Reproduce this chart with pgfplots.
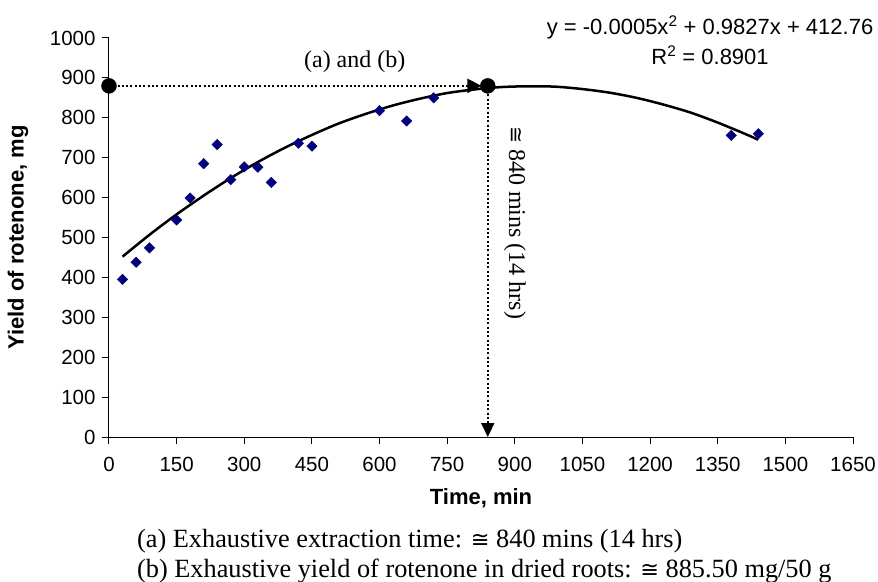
\documentclass[border=0pt]{standalone}
\usepackage{pgfplots}
\pgfplotsset{compat=1.18}
\usepackage{fontspec}
\setmainfont{Liberation Serif}
\newfontfamily\arial{Liberation Sans}
\newfontfamily\dejavu{DejaVu Sans}[Scale=0.85]
\newcommand{\approxeq}{{\dejavu ≅}}
\usetikzlibrary{arrows.meta}
\definecolor{navyblue}{RGB}{0,0,128}
\begin{document}
\begin{tikzpicture}
\useasboundingbox (-109bp,-145bp) rectangle (769bp,437bp);
\begin{axis}[
  at={(0,0)}, anchor=south west,
  scale only axis, width=744bp, height=399bp,
  xmin=0, xmax=1650, ymin=0, ymax=1000,
  axis x line=bottom, axis y line=left,
  axis line style={-, black, line width=1bp},
  xtick={0,150,...,1650}, ytick={0,100,...,1000},
  tick align=outside, major tick length=7bp,
  tick style={black, line width=1bp},
  /pgf/number format/assume math mode=true,
  /pgf/number format/set thousands separator={},
  tick label style={font=\arial\fontsize{20.5bp}{24bp}\selectfont},
  xticklabel style={yshift=-10bp},
  yticklabel style={xshift=-3bp},
  xlabel={Time, min}, ylabel={Yield of rotenone, mg},
  label style={font=\arial\bfseries\fontsize{22bp}{26bp}\selectfont},
  xlabel style={at={([yshift=-61bp]axis description cs:0.5,0)}, anchor=center},
  ylabel style={at={([xshift=-91bp]axis description cs:0,0.5)}, anchor=center},
  clip=false,
]
\addplot[black, line width=2.5bp, smooth] coordinates {
(30,452) (90,507) (150,558) (210,605) (270,649) (330,689) (390,725) (450,757)
(510,786) (570,810) (630,831) (690,848) (750,862) (810,871) (870,877) (930,879)
(990,878) (1050,872) (1110,863) (1170,850) (1230,833) (1290,813) (1350,788)
(1410,760) (1440,745)};
\addplot[only marks, mark=square*, mark size=3.7bp, mark options={rotate=45, fill=navyblue, draw=navyblue}] coordinates {
(30,395) (60,438) (90,474) (150,544) (180,599) (210,685) (240,733) (270,645)
(300,677) (330,676) (360,638) (420,736) (450,729) (600,818) (660,792) (720,850)
(1380,756) (1440,760)};
\addplot[black, line width=2.2bp, dash pattern=on 2bp off 2.3bp, -{Triangle[length=14bp,width=14bp]}] coordinates {(0,880) (826,880)};
\addplot[black, line width=2.2bp, dash pattern=on 2bp off 2.3bp, -{Triangle[length=14bp,width=13bp]}] coordinates {(840,880) (840,0)};
\addplot[only marks, mark=*, mark size=7.5bp, black] coordinates {(0,880) (840,880)};
\node[font=\fontsize{24bp}{28bp}\selectfont] at (axis cs:545,940) {(a) and (b)};
\node[font=\arial\fontsize{22bp}{30bp}\selectfont, align=center] at (axis cs:1333,995) {y = -0.0005x\textsuperscript{2} + 0.9827x + 412.76\\R\textsuperscript{2} = 0.8901};
\node[rotate=-90, font=\fontsize{24bp}{28bp}\selectfont] at (axis cs:900,537) {\approxeq{} 840 mins (14 hrs)};
\node[anchor=west, inner sep=0pt, font=\fontsize{26.3bp}{30bp}\selectfont] at (axis cs:62,-261) {(a) Exhaustive extraction time: \approxeq{} 840 mins (14 hrs)};
\node[anchor=west, inner sep=0pt, font=\fontsize{26.3bp}{30bp}\selectfont] at (axis cs:62,-336) {(b) Exhaustive yield of rotenone in dried roots: \approxeq{} 885.50 mg/50 g};
\end{axis}
\end{tikzpicture}
\end{document}
